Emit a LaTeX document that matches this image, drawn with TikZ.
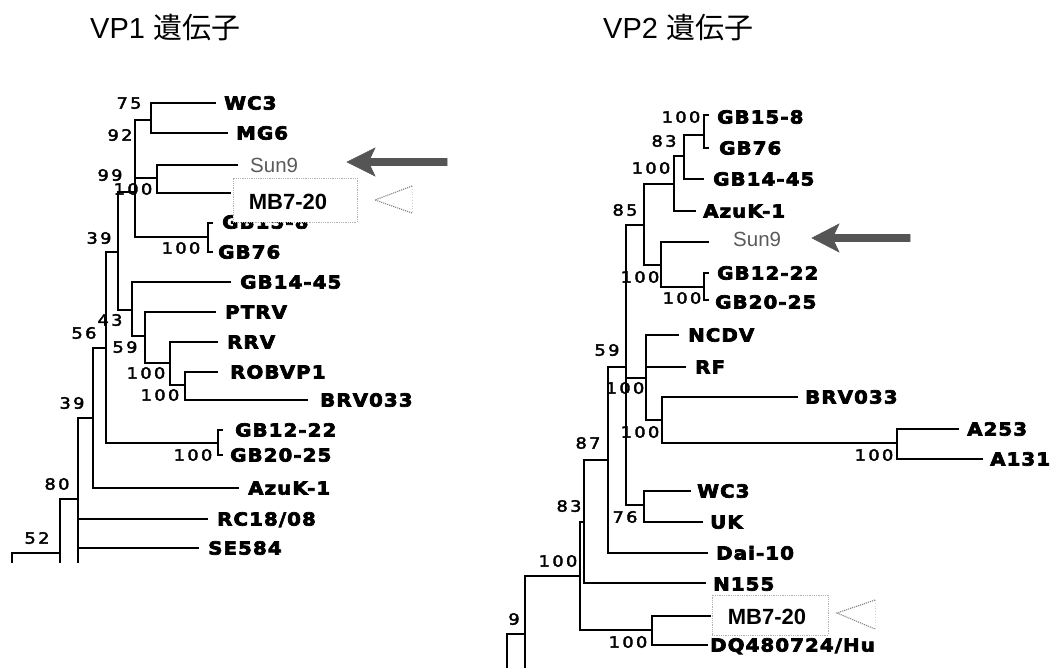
\documentclass[tikz,border=0pt]{standalone}
\usepackage{fontspec}
\setmainfont{DejaVu Sans}
\newfontfamily\leaffont{DejaVu Sans}[FakeStretch=1.1,LetterSpace=6]
\newfontfamily\bsfont{DejaVu Sans}[FakeStretch=1.15,LetterSpace=15]
\newfontfamily\arialfont{Liberation Sans}
\newfontfamily\cjkfont{Noto Sans CJK JP}
\newcommand\heavytext[2]{\special{pdf:literal direct #1 w 2 Tr}#2\special{pdf:literal direct 0 Tr}}
\definecolor{arrowgray}{RGB}{85,85,85}
\definecolor{sungray}{RGB}{90,90,90}
\begin{document}
\begin{tikzpicture}[x=1pt,y=-1pt,
  br/.style={line width=1.8pt,line cap=rect},
  leaf/.style={font={\leaffont\bfseries\fontsize{18}{18}\selectfont},anchor=west,inner sep=0pt,text height=13.1pt,text depth=0pt},
  bs/.style={font={\bsfont\fontsize{15.5}{15.5}\selectfont},inner sep=0pt,text height=11.3pt,text depth=0pt},
  sun/.style={font={\arialfont\fontsize{20.5}{20.5}\selectfont},text=sungray,anchor=west,inner sep=0pt,text height=14.7pt,text depth=0pt},
  mbbox/.style={draw=gray!60,densely dotted,line width=0.8pt,fill=white,inner sep=0pt},
  mbtext/.style={font={\arialfont\bfseries\fontsize{22}{22}\selectfont},inner sep=0pt,text height=15.8pt,text depth=0pt},
  title/.style={font={\arialfont\fontsize{29}{29}\selectfont},anchor=west,inner sep=0pt,text height=21pt,text depth=0pt},
  bigarrow/.style={fill=arrowgray,draw=arrowgray,line width=0.6pt},
  chev/.style={draw=gray,densely dotted,line width=1.1pt}
]
\useasboundingbox (0,0) rectangle (1059,667);
\tikzset{leafl/.style={leaf,execute at begin node={\heavytext{0.7}\bgroup},execute at end node={\egroup}}}

% titles
\node[title] (t1) at (90,28) {VP1 {\cjkfont 遺伝子}};
\node[title] (t2) at (603,28) {VP2 {\cjkfont 遺伝子}};

% ================= LEFT TREE =================
\coordinate (lA) at (151,120);
\coordinate (lB) at (157,178);
\coordinate (lC) at (208,237);
\coordinate (lD) at (135,192);
\coordinate (lE) at (118,252);
\coordinate (lF) at (132,310);
\coordinate (lG) at (145,336);
\coordinate (lH) at (170,363);
\coordinate (lI) at (185,385);
\coordinate (lJ) at (218,443);
\coordinate (lK) at (106,348);
\coordinate (lL) at (93,418);
\coordinate (lM) at (78,499);
\coordinate (lN) at (60,553);
\coordinate (lR) at (12,562);
\coordinate (lMb) at (78,562);
\coordinate (lNb) at (60,562);
\coordinate (ltWC3) at (215,103);
\coordinate (ltMG6) at (227,133);
\coordinate (ltSun) at (237,165);
\coordinate (ltMB) at (230,193);
\coordinate (ltG158) at (212,223);
\coordinate (ltG76) at (212,252);
\coordinate (ltG1445) at (230,282);
\coordinate (ltPTRV) at (215,312);
\coordinate (ltRRV) at (217,342);
\coordinate (ltROB) at (217,372);
\coordinate (ltBRV) at (307,400);
\coordinate (ltG1222) at (222,430);
\coordinate (ltG2025) at (222,455);
\coordinate (ltAzu) at (238,488);
\coordinate (ltRC) at (207,519);
\coordinate (ltSE) at (198,548);

\draw[br] (lD) |- (lA);
\draw[br] (lD) |- (lB);
\draw[br] (lD) |- (lC);
\draw[br] (lA) |- (ltWC3);
\draw[br] (lA) |- (ltMG6);
\draw[br] (lB) |- (ltSun);
\draw[br] (lB) |- (ltMB);
\draw[br] (lC) |- (ltG158);
\draw[br] (lC) |- (ltG76);
\draw[br] (lE) |- (lD);
\draw[br] (lE) |- (lF);
\draw[br] (lF) |- (ltG1445);
\draw[br] (lF) |- (lG);
\draw[br] (lG) |- (ltPTRV);
\draw[br] (lG) |- (lH);
\draw[br] (lH) |- (ltRRV);
\draw[br] (lH) |- (lI);
\draw[br] (lI) |- (ltROB);
\draw[br] (lI) |- (ltBRV);
\draw[br] (lJ) |- (ltG1222);
\draw[br] (lJ) |- (ltG2025);
\draw[br] (lK) |- (lE);
\draw[br] (lK) |- (lJ);
\draw[br] (lL) |- (lK);
\draw[br] (lL) |- (ltAzu);
\draw[br] (lM) |- (lL);
\draw[br] (lM) |- (ltRC);
\draw[br] (lM) |- (ltSE);
\draw[br] (lM) -- (lMb);
\draw[br] (lN) |- (lM);
\draw[br] (lN) -- (lNb);
\draw[br] (lR) |- (lN);

% left bootstrap values
\node[bs] (lb75) at (129,103) {\heavytext{0.4}{75}};
\node[bs] (lb92) at (120,135) {\heavytext{0.4}{92}};
\node[bs] (lb99) at (110,175) {\heavytext{0.4}{99}};
\node[bs] (lb100a) at (133,189) {\heavytext{0.4}{100}};
\node[bs] (lb39a) at (99,238) {\heavytext{0.4}{39}};
\node[bs] (lb100b) at (181,248) {\heavytext{0.4}{100}};
\node[bs] (lb43) at (110,320) {\heavytext{0.4}{43}};
\node[bs] (lb59) at (125,347) {\heavytext{0.4}{59}};
\node[bs] (lb100c) at (146,373) {\heavytext{0.4}{100}};
\node[bs] (lb100d) at (160,395) {\heavytext{0.4}{100}};
\node[bs] (lb56) at (84,333) {\heavytext{0.4}{56}};
\node[bs] (lb39b) at (72,403) {\heavytext{0.4}{39}};
\node[bs] (lb100e) at (193,455) {\heavytext{0.4}{100}};
\node[bs] (lb80) at (57,484) {\heavytext{0.4}{80}};
\node[bs] (lb52) at (37,538) {\heavytext{0.4}{52}};

% left leaf labels
\node[leaf] (lWC3) at (224,103) {\heavytext{0.7}{WC3}};
\node[leaf] (lMG6) at (236,133) {\heavytext{0.7}{MG6}};
\node[sun] (lSun) at (250,165) {Sun9};
\node[leaf] (lG158) at (222,222) {\heavytext{0.7}{GB15-8}};
\node[leaf] (lG76) at (218,252) {\heavytext{0.7}{GB76}};
\node[leaf] (lG1445) at (240,282) {\heavytext{0.7}{GB14-45}};
\node[leaf] (lPTRV) at (225,312) {\heavytext{0.7}{PTRV}};
\node[leaf] (lRRV) at (227,342) {\heavytext{0.7}{RRV}};
\node[leaf] (lROB) at (230,372) {\heavytext{0.7}{ROBVP1}};
\node[leaf] (lBRV) at (320,400) {\heavytext{0.7}{BRV033}};
\node[leaf] (lG1222) at (235,430) {\heavytext{0.7}{GB12-22}};
\node[leaf] (lG2025) at (230,455) {\heavytext{0.7}{GB20-25}};
\node[leaf] (lAzu) at (248,488) {\heavytext{0.7}{AzuK-1}};
\node[leaf] (lRC) at (217,519) {\heavytext{0.7}{RC18/08}};
\node[leaf] (lSE) at (208,548) {\heavytext{0.7}{SE584}};

% left MB7-20 box
\node[mbbox,minimum width=124pt,minimum height=44pt] (lMBbox) at (295,200) {};
\node[mbtext] (lMB) at (288,202) {MB7-20};

% left markers
\draw[bigarrow] (347,162) -- (375,148) -- (370,158.5) -- (447,158.5) -- (447,165.5) -- (370,165.5) -- (375,176) -- cycle;
\draw[gray!35,dotted,line width=0.8pt] (412,186) -- (412,213);
\draw[chev] (412,186) -- (375,200) -- (412,213);

% ================= RIGHT TREE =================
\coordinate (rA) at (704,135);
\coordinate (rB) at (684,156);
\coordinate (rC) at (674,184);
\coordinate (rD) at (704,287);
\coordinate (rE) at (661,265);
\coordinate (rF) at (644,225);
\coordinate (rG) at (897,443);
\coordinate (rH) at (662,420);
\coordinate (rI) at (646,378);
\coordinate (rJ) at (644,505);
\coordinate (rK) at (626,367);
\coordinate (rL) at (608,460);
\coordinate (rM) at (584,522);
\coordinate (rN) at (652,630);
\coordinate (rO) at (580,576);
\coordinate (rP) at (525,634);
\coordinate (rR) at (507,667);
\coordinate (rPb) at (525,667);
\coordinate (rtG158) at (708,115);
\coordinate (rtG76) at (708,148);
\coordinate (rtG1445) at (703,179);
\coordinate (rtAzu) at (695,211);
\coordinate (rtSun) at (708,242);
\coordinate (rtG1222) at (708,273);
\coordinate (rtG2025) at (708,300);
\coordinate (rtNCDV) at (678,335);
\coordinate (rtRF) at (685,367);
\coordinate (rtBRV) at (797,397);
\coordinate (rtA253) at (958,429);
\coordinate (rtA131) at (982,459);
\coordinate (rtWC3) at (690,491);
\coordinate (rtUK) at (702,522);
\coordinate (rtDai) at (707,553);
\coordinate (rtN155) at (705,583);
\coordinate (rtMB) at (710,616);
\coordinate (rtDQ) at (707,645);

\draw[br] (rA) |- (rtG158);
\draw[br] (rA) |- (rtG76);
\draw[br] (rB) |- (rA);
\draw[br] (rB) |- (rtG1445);
\draw[br] (rC) |- (rB);
\draw[br] (rC) |- (rtAzu);
\draw[br] (rD) |- (rtG1222);
\draw[br] (rD) |- (rtG2025);
\draw[br] (rE) |- (rtSun);
\draw[br] (rE) |- (rD);
\draw[br] (rF) |- (rC);
\draw[br] (rF) |- (rE);
\draw[br] (rG) |- (rtA253);
\draw[br] (rG) |- (rtA131);
\draw[br] (rH) |- (rtBRV);
\draw[br] (rH) |- (rG);
\draw[br] (rI) |- (rtNCDV);
\draw[br] (rI) |- (rtRF);
\draw[br] (rI) |- (rH);
\draw[br] (rJ) |- (rtWC3);
\draw[br] (rJ) |- (rtUK);
\draw[br] (rK) |- (rF);
\draw[br] (rK) |- (rI);
\draw[br] (rK) |- (rJ);
\draw[br] (rL) |- (rK);
\draw[br] (rL) |- (rtDai);
\draw[br] (rM) |- (rL);
\draw[br] (rM) |- (rtN155);
\draw[br] (rN) |- (rtMB);
\draw[br] (rN) |- (rtDQ);
\draw[br] (rO) |- (rM);
\draw[br] (rO) |- (rN);
\draw[br] (rP) |- (rO);
\draw[br] (rP) -- (rPb);
\draw[br] (rR) |- (rP);

% right bootstrap values
\node[bs] (rb100a) at (681,117) {\heavytext{0.4}{100}};
\node[bs] (rb83a) at (664,141) {\heavytext{0.4}{83}};
\node[bs] (rb100b) at (651,168) {\heavytext{0.4}{100}};
\node[bs] (rb85) at (625,210) {\heavytext{0.4}{85}};
\node[bs] (rb100c) at (640,277) {\heavytext{0.4}{100}};
\node[bs] (rb100d) at (682,298) {\heavytext{0.4}{100}};
\node[bs] (rb59) at (607,350) {\heavytext{0.4}{59}};
\node[bs] (rb100e) at (625,388) {\heavytext{0.4}{100}};
\node[bs] (rb100f) at (640,432) {\heavytext{0.4}{100}};
\node[bs] (rb100g) at (874,455) {\heavytext{0.4}{100}};
\node[bs] (rb87) at (588,443) {\heavytext{0.4}{87}};
\node[bs] (rb83b) at (569,506) {\heavytext{0.4}{83}};
\node[bs] (rb76) at (625,517) {\heavytext{0.4}{76}};
\node[bs] (rb100h) at (558,561) {\heavytext{0.4}{100}};
\node[bs] (rb9) at (514,619) {\heavytext{0.4}{9}};
\node[bs] (rb100i) at (628,642) {\heavytext{0.4}{100}};

% right leaf labels
\node[leaf] (rG158) at (717,117) {\heavytext{0.7}{GB15-8}};
\node[leaf] (rG76) at (719,148) {\heavytext{0.7}{GB76}};
\node[leaf] (rG1445) at (713,179) {\heavytext{0.7}{GB14-45}};
\node[leaf] (rAzu) at (703,211) {\heavytext{0.7}{AzuK-1}};
\node[sun] (rSun) at (733,239) {Sun9};
\node[leaf] (rG1222) at (717,273) {\heavytext{0.7}{GB12-22}};
\node[leaf] (rG2025) at (715,302) {\heavytext{0.7}{GB20-25}};
\node[leaf] (rNCDV) at (688,335) {\heavytext{0.7}{NCDV}};
\node[leaf] (rRF) at (695,367) {\heavytext{0.7}{RF}};
\node[leaf] (rBRV) at (805,397) {\heavytext{0.7}{BRV033}};
\node[leaf] (rA253) at (967,429) {\heavytext{0.7}{A253}};
\node[leaf] (rA131) at (990,459) {\heavytext{0.7}{A131}};
\node[leaf] (rWC3) at (697,491) {\heavytext{0.7}{WC3}};
\node[leaf] (rUK) at (710,522) {\heavytext{0.7}{UK}};
\node[leaf] (rDai) at (716,553) {\heavytext{0.7}{Dai-10}};
\node[leaf] (rN155) at (713,584) {\heavytext{0.7}{N155}};
\node[leaf] (rDQ) at (710,645) {\heavytext{0.7}{DQ480724/Hu}};

% right MB7-20 box
\node[mbbox,minimum width=116pt,minimum height=40pt] (rMBbox) at (770,615) {};
\node[mbtext] (rMB) at (767,617) {MB7-20};

% right markers
\draw[bigarrow] (812,238) -- (839,224) -- (834,234.5) -- (910,234.5) -- (910,241.5) -- (834,241.5) -- (839,252) -- cycle;
\draw[gray!35,dotted,line width=0.8pt] (875,600) -- (875,629);
\draw[chev] (875,600) -- (837,613) -- (875,629);
\end{tikzpicture}
\end{document}
